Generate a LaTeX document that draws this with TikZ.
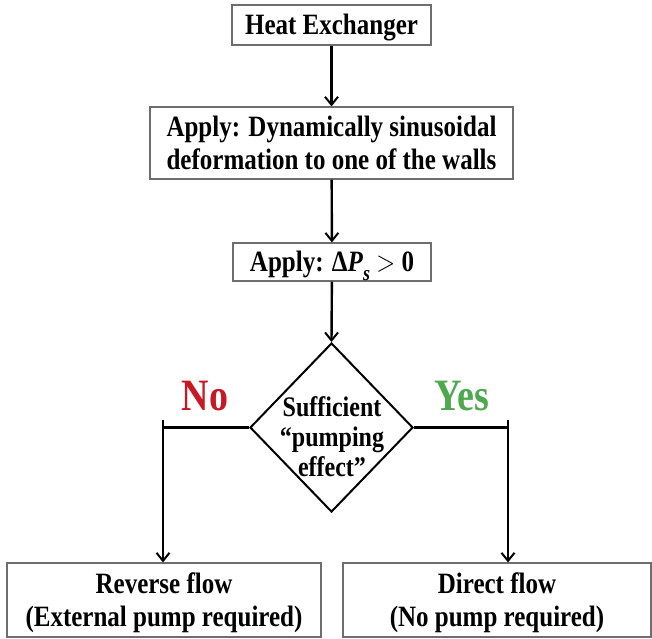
\documentclass[tikz,border=0pt]{standalone}
\usepackage{fontspec}
\setmainfont{Liberation Serif}
\usetikzlibrary{shapes.geometric,arrows.meta}
\definecolor{nored}{RGB}{200,24,36}
\definecolor{yesgreen}{RGB}{78,168,78}
\definecolor{boxgray}{RGB}{110,110,110}
\newcommand{\talltext}[1]{\raisebox{-3.5pt}[\height][\depth]{\scalebox{1}[1.18]{\begin{tabular}{@{}c@{}}#1\end{tabular}}}}
\tikzset{
  flowbox/.style={draw=boxgray, line width=1.2pt, fill=white, inner sep=0pt, align=center,
    font=\fontsize{25}{27.5}\selectfont\bfseries},
  conn/.style={line width=2.4pt, -{Straight Barb[length=8pt,width=13pt,line width=2pt]}},
  decision/.style={diamond, draw, line width=2pt, inner sep=0pt},
  dtext/.style={align=center, font=\fontsize{24}{25.5}\selectfont\bfseries},
  answer/.style={font=\fontsize{38}{40}\selectfont\bfseries}
}
\begin{document}
\begin{tikzpicture}[x=1pt,y=-1pt]
\useasboundingbox (0,0) rectangle (652,638);
\node[flowbox, minimum width=199pt, minimum height=40pt] (he) at (331.5,25) {\talltext{Heat Exchanger}};
\node[flowbox, minimum width=363pt, minimum height=72pt] (def) at (331.5,143) {\talltext{Apply: Dynamically sinusoidal\\deformation to one of the walls}};
\node[flowbox, minimum width=198pt, minimum height=38pt] (dp) at (332,262) {\talltext{Apply: Δ\textit{P}\raisebox{-0.28em}{\textit{\fontsize{18}{18}\selectfont s}} $>$ 0}};
\node[decision, minimum width=163pt, minimum height=169pt] (dec) at (331.5,427.5) {};
\node[dtext] (dect) at (332,437) {\talltext{Sufficient\\“pumping\\effect”}};
\node[flowbox, minimum width=314pt, minimum height=74pt] (rev) at (164,600) {\talltext{Reverse flow\\(External pump required)}};
\node[flowbox, minimum width=308pt, minimum height=74pt] (dir) at (497,600) {\talltext{Direct flow\\(No pump required)}};
\node[answer, text=nored] (no) at (205,398) {\talltext{No}};
\node[answer, text=yesgreen] (yes) at (462,398) {\talltext{Yes}};
\coordinate (lc) at (163,427.5);
\coordinate (rc) at (508,427.5);
\draw[conn] (he) -- (def);
\draw[conn] (def) -- (dp);
\draw[conn] (dp) -- (dec.north);
\draw[conn] ([yshift=-1.2pt]lc) -- (lc |- rev.north);
\draw[conn] ([yshift=-1.2pt]rc) -- (rc |- dir.north);
\draw[line width=2.4pt, line join=miter] (dec.west) -- (lc) -- ([yshift=8pt]lc);
\draw[line width=2.4pt, line join=miter] (dec.east) -- (rc) -- ([yshift=8pt]rc);
\end{tikzpicture}
\end{document}
